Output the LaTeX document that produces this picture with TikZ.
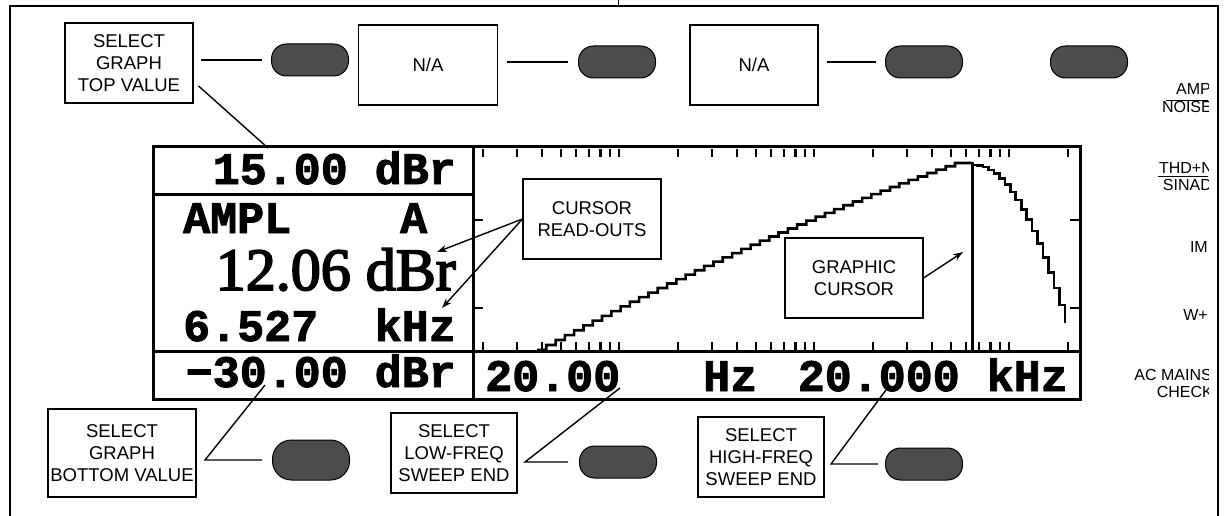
\documentclass[tikz,border=0pt]{standalone}
\usepackage{fontspec}
\setmainfont{Liberation Sans}
\newfontfamily\lcdfont{Liberation Mono}[FakeBold=2]
\newfontfamily\lcdserif{Liberation Serif}[FakeBold=3]
\usepackage{tikz}
\usetikzlibrary{arrows.meta}

\begin{document}
\begin{tikzpicture}[x=1pt,y=-1pt,
  labelbox/.style={rectangle,draw=black,line width=1.1pt,fill=white,align=center,minimum width=128pt,minimum height=80pt,inner sep=1pt,font=\fontsize{18.5}{22}\selectfont},
  keybtn/.style={rectangle,rounded corners=15pt,draw=black,line width=1pt,fill=black!70,minimum width=77pt,minimum height=32pt},
  lcd/.style={inner sep=0pt,font=\lcdfont\bfseries\fontsize{45}{45}\selectfont},
  sidelbl/.style={anchor=base east,inner sep=0pt,font=\fontsize{16}{16}\selectfont},
  panel/.style={line width=3pt},
  tick/.style={line width=2.2pt},
  trace/.style={line width=2.6pt},
  lead/.style={line width=1.4pt},
  pointer/.style={-{Stealth[length=10pt,width=7pt]},line width=1.4pt}]
  \useasboundingbox (0,0) rectangle (1226,516);

  \draw[line width=1.2pt] (10,516) -- (10,6) -- (1218,6) -- (1218,516);
  \draw[line width=1pt] (618,0) -- (618,6);

  \node[labelbox] (topsel) at (129,63) {SELECT\\GRAPH\\TOP VALUE};
  \node[keybtn] (key1) at (310,60) {};
  \node[labelbox,minimum width=139pt] (na1) at (428,65) {N/A};
  \node[keybtn] (key2) at (617,62) {};
  \node[labelbox] (na2) at (754,65) {N/A};
  \node[keybtn] (key3) at (924,62) {};
  \node[keybtn] (key4) at (1089,62) {};

  \draw[lead,shorten <=7pt,shorten >=9pt] (topsel.east |- key1) -- (key1.west);
  \draw[lead,shorten <=9pt,shorten >=10pt] (na1.east |- key2) -- (key2.west);
  \draw[lead,shorten <=8pt,shorten >=9pt] (na2.east |- key3) -- (key3.west);

  \begin{scope}
    \clip (1100,60) rectangle (1208,420);
    \node[sidelbl] (amp) at (1211,95) {AMP};
    \node[sidelbl] (noise) at (1212,113) {NOISE};
    \draw[line width=0.8pt] (1166,100) -- (1212,100);
    \node[sidelbl] (thd) at (1213,173) {THD+N};
    \node[sidelbl] (sinad) at (1212,190) {SINAD};
    \draw[line width=0.8pt] (1158,176) -- (1212,176);
    \node[sidelbl] (im) at (1208,252) {IM};
    \node[sidelbl] (wf) at (1208,320) {W+};
    \node[sidelbl] (mains) at (1212,380) {AC MAINS};
    \node[sidelbl] (check) at (1213,397) {CHECK};
  \end{scope}

  \draw[panel] (153,147) rectangle (1080,399);
  \draw[panel] (473,147) -- (473,399);
  \draw[panel] (153,351) -- (1080,351);
  \draw[panel] (153,194) -- (473,194);

  \foreach \d in {0,1,2}
    \foreach \m in {2,...,10} {
      \draw[tick] ({483+195*(\d+log10(\m/2))},149) -- ++(0,8);
      \draw[tick] ({483+195*(\d+log10(\m/2))},351) -- ++(0,-9);
    }
  \draw[tick] (1068,149) -- ++(0,8);
  \draw[tick] (1068,351) -- ++(0,-9);
  \foreach \yy in {220,308} {
    \draw[tick] (473,\yy) -- ++(10,0);
    \draw[tick] (1080,\yy) -- ++(-10,0);
  }

  \draw[trace] plot[const plot,domain=537:955,samples=46] (\x,{350-0.4474*(\x-537)+((\x-537)*0.0149)*((\x-955)*0.0149)}) -- (972,163);
  \draw[trace] plot[const plot,domain=972:1065,samples=18] (\x,{165+((\x-972)*0.1352)^2});
  \draw[line width=3pt] (972,162) -- (972,351);

  \node[lcd,anchor=base east] (topdb) at (456,184) {15.00 dBr};
  \node[lcd,anchor=base west] (mode) at (183,233) {AMPL};
  \node[lcd,anchor=base west] (chan) at (400,233) {A};
  \node[anchor=base east,inner sep=0pt,font=\lcdserif\fontsize{60}{60}\selectfont] (level) at (456,290) {12.06 dBr};
  \node[lcd,anchor=base west] (freq) at (183,341) {6.527};
  \node[lcd,anchor=base east] (khz) at (456,341) {kHz};
  \node[lcd,anchor=base east] (botdb) at (456,387) {−30.00 dBr};
  \node[lcd,anchor=base west] (fstart) at (485,391) {20.00};
  \node[lcd,anchor=base west] (hz) at (703,391) {Hz};
  \node[lcd,anchor=base east] (fstop) at (1068,391) {20.000 kHz};

  \node[labelbox,minimum width=138pt] (readbox) at (592,219) {CURSOR\\READ-OUTS};
  \node[labelbox,minimum width=138pt] (cursbox) at (854,278) {GRAPHIC\\CURSOR};
  \coordinate (readA) at (437,252);
  \coordinate (readB) at (442,308);
  \coordinate (curtip) at (963,252);
  \draw[pointer] (readbox.west) -- (readA);
  \draw[pointer] (readbox.west) -- (readB);
  \draw[pointer] (cursbox.east) -- (curtip);

  \coordinate (topend) at (268,148);
  \draw[lead] ([xshift=5pt,yshift=-23pt]topsel.east) -- (topend);

  \node[labelbox,minimum width=148pt,minimum height=88pt] (botsel) at (122,453) {SELECT\\GRAPH\\BOTTOM VALUE};
  \node[labelbox,minimum width=126pt] (lowsel) at (454,453) {SELECT\\LOW-FREQ\\SWEEP END};
  \node[labelbox,minimum width=126pt] (highsel) at (761,457) {SELECT\\HIGH-FREQ\\SWEEP END};
  \node[keybtn,minimum height=40pt,rounded corners=19pt] (key5) at (311,460) {};
  \node[keybtn] (key6) at (618,462) {};
  \node[keybtn] (key7) at (924,464) {};

  \coordinate (botjoin) at (205,460);
  \coordinate (botend) at (265,385);
  \coordinate (lowjoin) at (525,462);
  \coordinate (lowend) at (620,388);
  \coordinate (highjoin) at (831,464);
  \coordinate (highend) at (886,390);
  \draw[lead,shorten >=10pt] (botend) -- (botjoin) -- (key5.west);
  \draw[lead,shorten >=11pt] (lowend) -- (lowjoin) -- (key6.west);
  \draw[lead,shorten >=7pt] (highend) -- (highjoin) -- (key7.west);
\end{tikzpicture}
\end{document}
